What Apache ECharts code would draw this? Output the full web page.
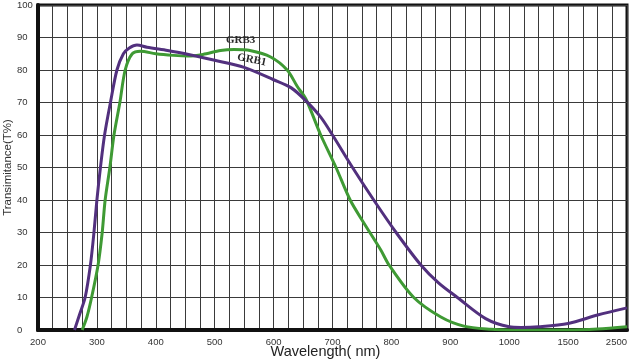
<!DOCTYPE html>
<html><head><meta charset="utf-8">
<script src="https://cdn.jsdelivr.net/npm/echarts@6/dist/echarts.min.js"></script>
<style>html,body{margin:0;padding:0;background:#fff}#c{width:630px;height:360px}</style>
</head><body><div id="c"></div>
<script>
// Tick labels (wavelength, nm) placed along the broken x axis
const tickLabels = [200, 300, 400, 500, 600, 700, 800, 900, 1000, 1500, 2500];
// GRB1 (purple)
const wlGRB1 = [262, 271, 280, 289, 295, 300, 306, 313, 323, 334, 345, 355, 368, 385, 420, 450, 500, 550, 600, 630, 655, 680, 700, 734, 770, 808, 850, 880, 912, 960, 1000, 1100, 1250, 1500, 2000, 2500];
const tGRB1  = [0, 5, 10, 20, 30, 40, 50, 60, 70, 80, 85, 86.8, 87.7, 87, 86, 85, 83, 80.8, 77, 74.5, 70.5, 65.5, 60, 50, 40, 30, 20, 14.5, 10, 3.5, 1, 0.8, 1, 2, 4.6, 6.8];
// GRB3 (green)
const wlGRB3 = [275, 283, 291, 302, 309, 314, 322, 329, 339, 348, 360, 374, 400, 430, 455, 480, 510, 533, 560, 595, 623, 640, 655, 680, 706, 730, 753, 782, 796, 838, 884, 923, 969, 1000, 1500, 2000, 2500];
const tGRB3  = [0, 4, 10, 20, 30, 40, 50, 60, 70, 80, 85, 85.8, 85, 84.5, 84.3, 84.8, 86, 86.3, 86, 84, 80, 75, 71, 60, 50, 40, 33, 24.6, 20, 10, 4, 1.2, 0.2, 0, 0, 0.3, 1];

// Broken wavelength scale: 25 nm per grid cell up to 1000, then 125 nm to 1500, 250 nm to 2500
function toPos(nm) {
  if (nm <= 1000) return (nm - 200) / 25;
  if (nm <= 1500) return 32 + (nm - 1000) / 125;
  return 36 + (nm - 1500) / 250;
}
const labelAt = {};
tickLabels.forEach(v => { labelAt[Math.round(toPos(v))] = String(v); });

const chart = echarts.init(document.getElementById('c'), null, {renderer: 'canvas'});
const font = 'Liberation Sans, Arial, sans-serif';
chart.setOption({
  animation: false,
  backgroundColor: '#fff',
  grid: {left: 38, right: 3, top: 5, bottom: 30, show: true, borderColor: '#111', borderWidth: 3,
         containLabel: false, outerBoundsMode: 'none'},
  xAxis: {
    type: 'value', min: 0, max: 40, interval: 1,
    name: 'Wavelength( nm)', nameLocation: 'middle', nameGap: 14, nameMoveOverlap: false,
    nameTextStyle: {fontFamily: font, fontSize: 14.5, color: '#222', padding: [0, 14, 0, 0]},
    axisLine: {lineStyle: {color: '#111', width: 4}},
    axisTick: {show: false},
    splitLine: {show: true, lineStyle: {color: '#3a3a3a', width: 1}},
    axisLabel: {
      fontFamily: font, fontSize: 9.5, color: '#333', margin: 7,
      showMinLabel: true, showMaxLabel: true, alignMaxLabel: 'right',
      interval: 0,
      formatter: v => labelAt[Math.round(v)] || ''
    }
  },
  yAxis: {
    type: 'value', min: 0, max: 100, interval: 10,
    name: 'Transimitance(T%)', nameLocation: 'middle', nameGap: 30, nameMoveOverlap: false,
    nameTextStyle: {fontFamily: font, fontSize: 11.5, color: '#333', verticalAlign: 'middle'},
    axisLine: {show: true, lineStyle: {color: '#111', width: 4}},
    axisTick: {show: false},
    splitLine: {show: true, lineStyle: {color: '#3a3a3a', width: 1.2}},
    axisLabel: {fontFamily: font, fontSize: 9.5, color: '#333', align: 'left', margin: 21}
  },
  series: [
    {
      name: 'GRB3', type: 'line', showSymbol: false, smooth: 0.3,
      lineStyle: {color: '#3f9a34', width: 3},
      data: wlGRB3.map((w, i) => [toPos(w), tGRB3[i]]),
      markPoint: {
        symbol: 'circle', symbolSize: 0,
        label: {show: true, formatter: 'GRB3', fontFamily: 'Liberation Serif, serif', fontWeight: 'bold', fontSize: 11, color: '#2a2a2a'},
        data: [{coord: [toPos(544), 89.2]}]
      }
    },
    {
      name: 'GRB1', type: 'line', showSymbol: false, smooth: 0.3,
      lineStyle: {color: '#52307e', width: 3},
      data: wlGRB1.map((w, i) => [toPos(w), tGRB1[i]]),
      markPoint: {
        symbol: 'circle', symbolSize: 0,
        label: {show: true, formatter: 'GRB1', fontFamily: 'Liberation Serif, serif', fontWeight: 'bold', fontSize: 11, color: '#2a2a2a', rotate: -12},
        data: [{coord: [toPos(563), 83.1]}]
      }
    }
  ]
});
</script></body></html>
